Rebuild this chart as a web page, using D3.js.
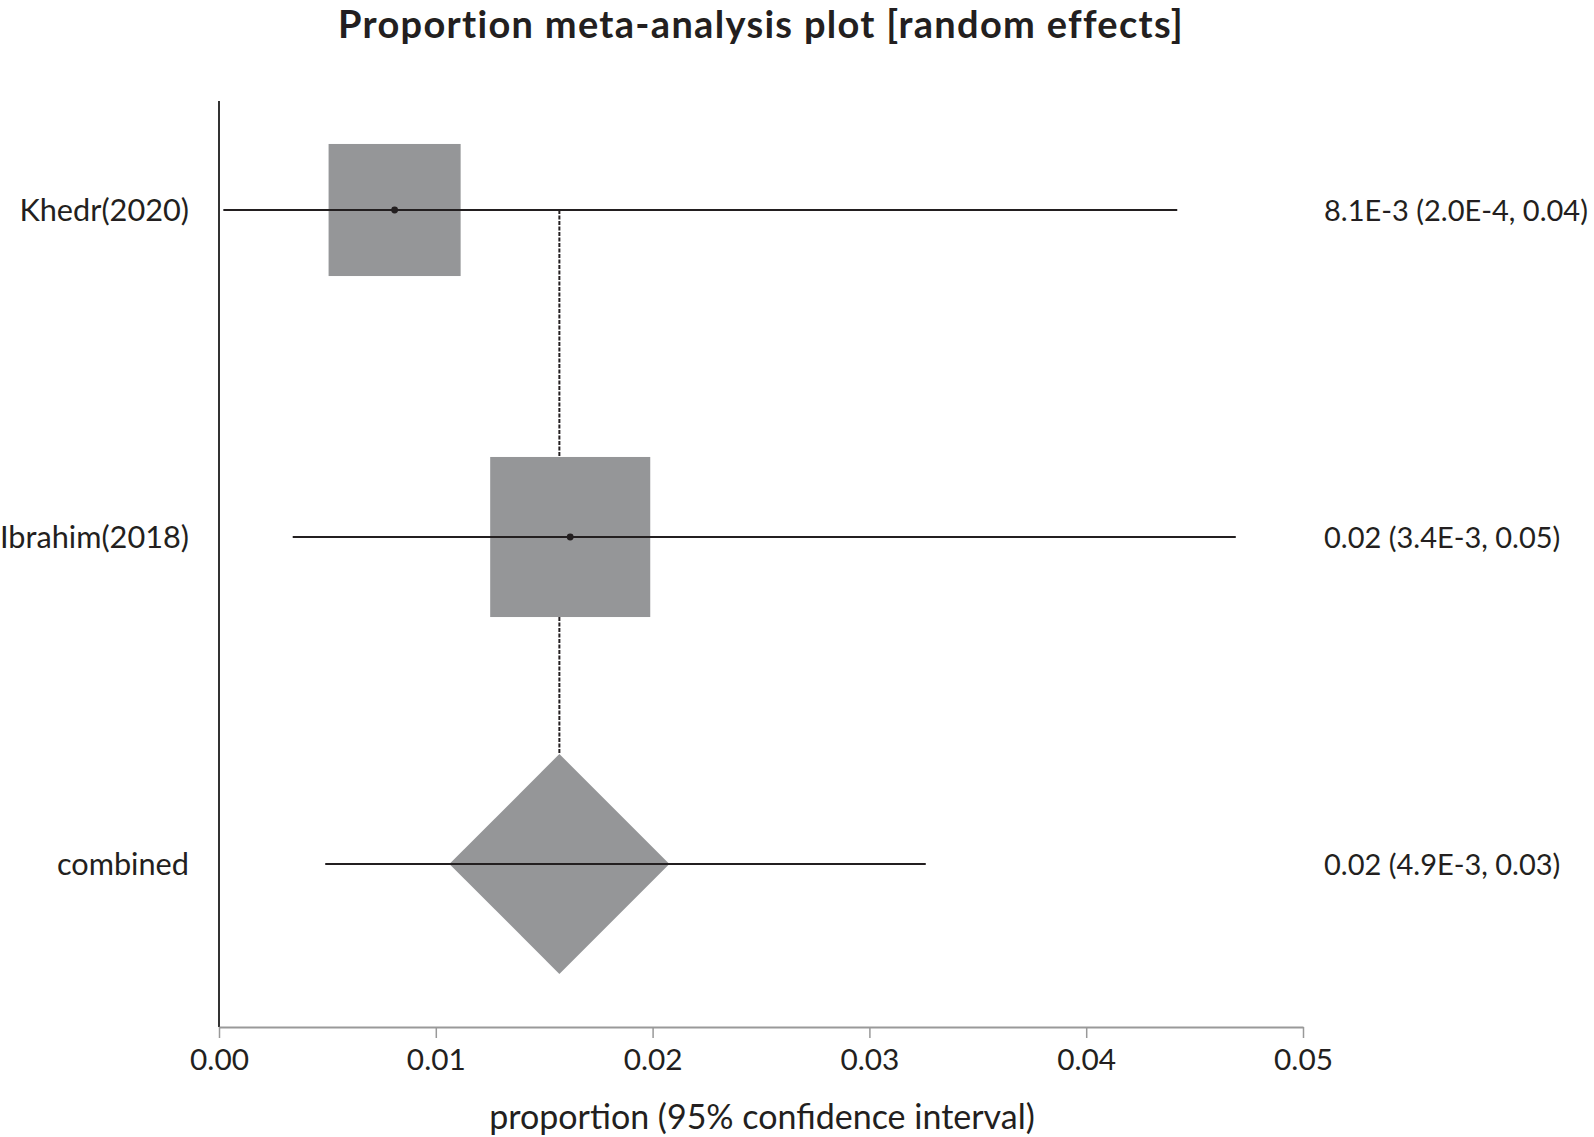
<!DOCTYPE html>
<html>
<head>
<meta charset="utf-8">
<script src="https://cdn.jsdelivr.net/npm/d3@7"></script>
<style>
  html, body { margin: 0; padding: 0; background: #fff; }
  svg { display: block; }
  text { font-family: Lato, "Open Sans", sans-serif; fill: #231f20; }
</style>
</head>
<body>
<svg id="chart" width="1594" height="1137"></svg>
<script>
// ---- data ----
const studies = ["Khedr(2020)", "Ibrahim(2018)"];
const estimates = [0.0081, 0.0162];
const lowerCI = [0.0002, 0.0034];
const upperCI = [0.0442, 0.0469];
const weights = [40.5, 59.5];
const studyLabels = ["8.1E-3 (2.0E-4, 0.04)", "0.02 (3.4E-3, 0.05)"];
const pooledName = "combined";
const pooledEstimate = 0.0157;
const pooledLower = 0.0049;
const pooledUpper = 0.0326;
const pooledLabel = "0.02 (4.9E-3, 0.03)";
const xTicks = [0, 0.01, 0.02, 0.03, 0.04, 0.05];
const title = "Proportion meta-analysis plot [random effects]";
const xTitle = "proportion (95% confidence interval)";

// ---- layout ----
const svg = d3.select("#chart");
const fill = "#959698";
const ink = "#231f20";
const x = d3.scaleLinear().domain([0, 0.05]).range([219, 1303]);
const rows = studies.concat([pooledName]);
const y = d3.scalePoint().domain(rows).range([210, 864]);
const side = d3.scaleSqrt().domain([0, 100]).range([0, 207.5]);
const diamondHalf = 110;
const axisY = 1027;

// title
svg.append("text")
  .attr("x", 761).attr("y", 38)
  .attr("text-anchor", "middle")
  .style("font-size", "38px").style("font-weight", "bold")
  .style("letter-spacing", "1.3px")
  .text(title);

// dashed reference line
svg.append("line")
  .attr("x1", x(pooledEstimate)).attr("x2", x(pooledEstimate))
  .attr("y1", y(studies[0])).attr("y2", y(pooledName) - diamondHalf)
  .attr("stroke", ink).attr("stroke-width", 2)
  .attr("stroke-dasharray", "4,1.5");

// study boxes
const st = studies.map((s, i) => ({ s, e: estimates[i], lo: lowerCI[i], hi: upperCI[i], w: weights[i], lab: studyLabels[i] }));
svg.selectAll("rect.box").data(st).enter().append("rect")
  .attr("class", "box")
  .attr("x", d => x(d.e) - side(d.w) / 2)
  .attr("y", d => y(d.s) - side(d.w) / 2)
  .attr("width", d => side(d.w))
  .attr("height", d => side(d.w))
  .attr("fill", fill);

// pooled diamond
const py = y(pooledName), px = x(pooledEstimate);
svg.append("path")
  .attr("d", `M${px},${py - diamondHalf}L${px + diamondHalf},${py}L${px},${py + diamondHalf}L${px - diamondHalf},${py}Z`)
  .attr("fill", fill);

// CI lines
svg.selectAll("line.ci").data(st).enter().append("line")
  .attr("x1", d => x(d.lo)).attr("x2", d => x(d.hi))
  .attr("y1", d => y(d.s)).attr("y2", d => y(d.s))
  .attr("stroke", ink).attr("stroke-width", 2);
svg.append("line")
  .attr("x1", x(pooledLower)).attr("x2", x(pooledUpper))
  .attr("y1", py).attr("y2", py)
  .attr("stroke", ink).attr("stroke-width", 2);

// points
svg.selectAll("circle.pt").data(st).enter().append("circle")
  .attr("cx", d => x(d.e)).attr("cy", d => y(d.s)).attr("r", 3.4)
  .attr("fill", ink);

// left labels
svg.selectAll("text.lab").data(rows).enter().append("text")
  .attr("x", 189).attr("y", d => y(d) + 11)
  .attr("text-anchor", "end")
  .style("font-size", "30.7px")
  .text(d => d);

// right labels
const rightLabs = studyLabels.concat([pooledLabel]);
svg.selectAll("text.rlab").data(rows).enter().append("text")
  .attr("x", 1324).attr("y", (d) => y(d) + 11)
  .attr("text-anchor", "start")
  .style("font-size", "29px")
  .text((d, i) => rightLabs[i]);

// y axis line
svg.append("line")
  .attr("x1", 219).attr("x2", 219).attr("y1", 101).attr("y2", axisY)
  .attr("stroke", "#333").attr("stroke-width", 2);

// x axis
const xa = svg.append("g").attr("transform", `translate(0,${axisY})`)
  .call(d3.axisBottom(x).tickValues(xTicks).tickFormat(d3.format(".2f")).tickSize(11).tickSizeOuter(0).tickPadding(11));
xa.select(".domain").attr("stroke", "#999").attr("stroke-width", 2);
xa.selectAll(".tick line").attr("stroke", "#999").attr("stroke-width", 1.5);
xa.selectAll(".tick text").style("font-size", "29.8px").style("font-family", "Lato, sans-serif").attr("fill", ink);

// x title
svg.append("text")
  .attr("x", 762).attr("y", 1129)
  .attr("text-anchor", "middle")
  .style("font-size", "34px")
  .text(xTitle);
</script>
</body>
</html>
